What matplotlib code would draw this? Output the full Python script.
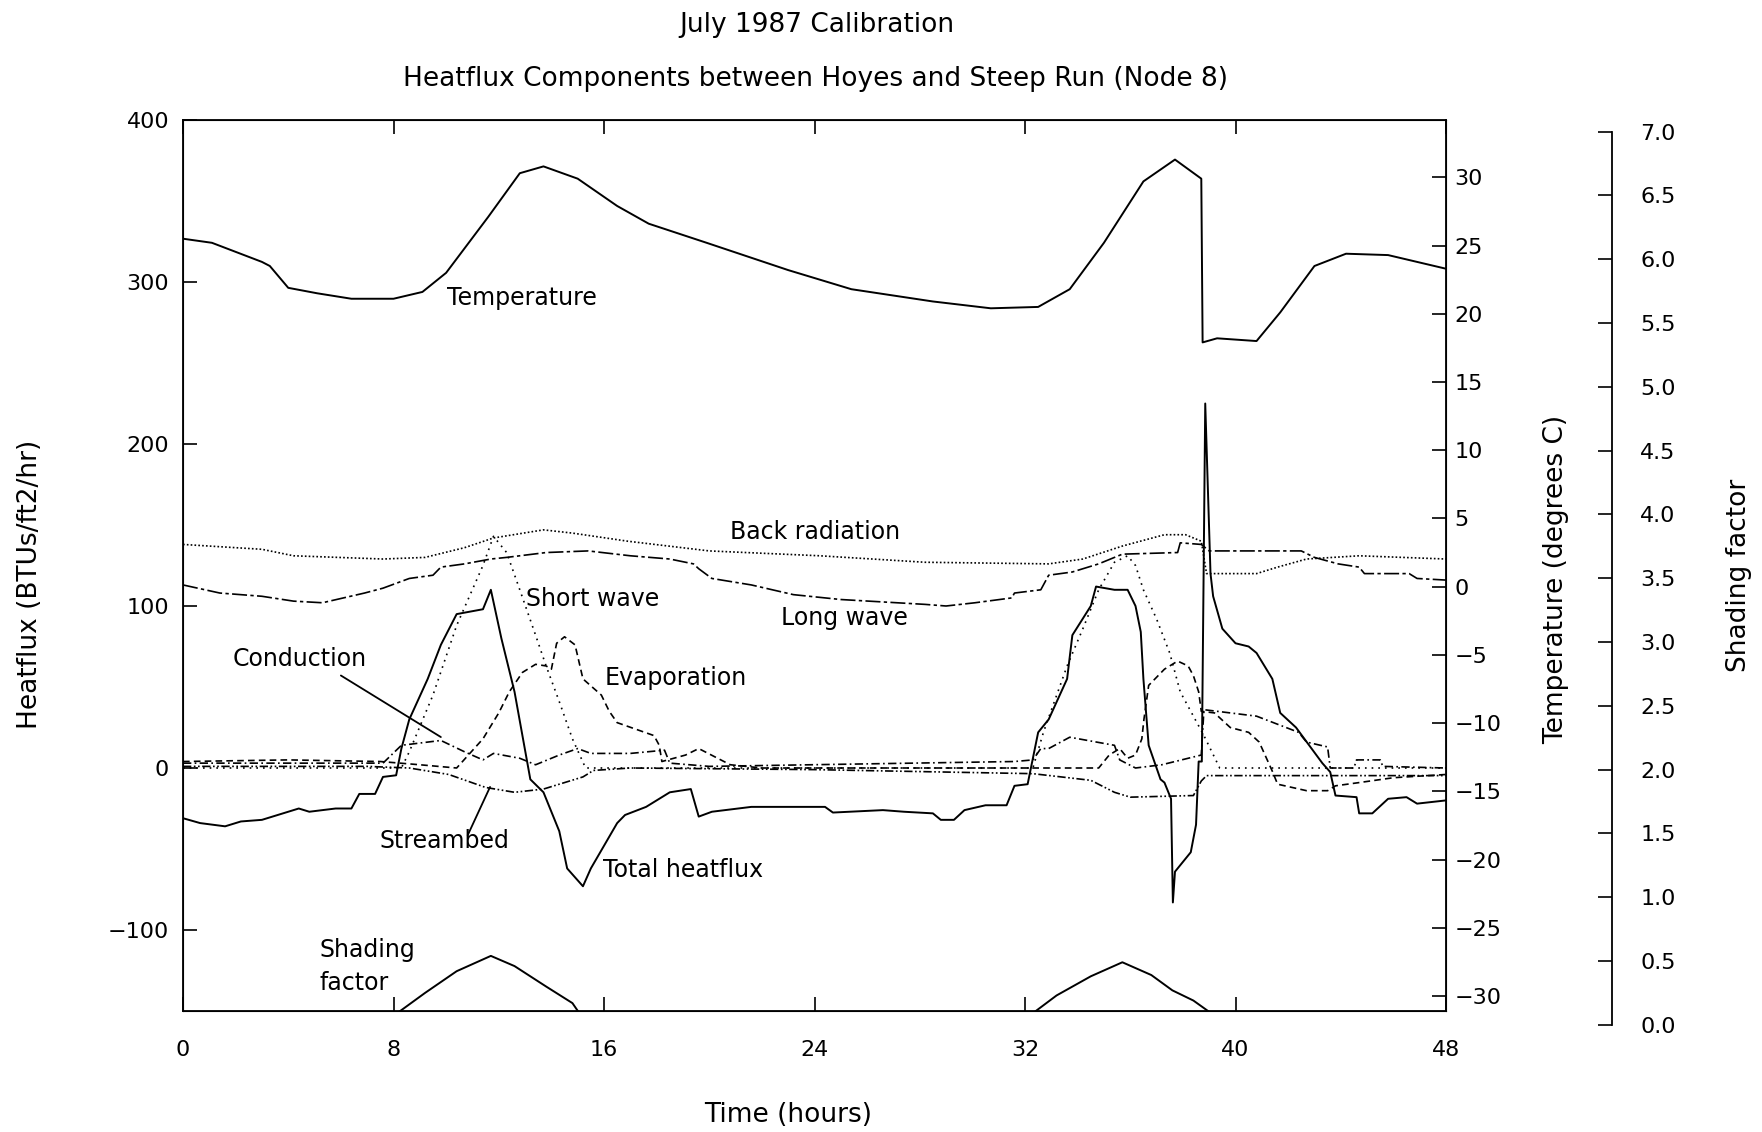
import numpy as np
import matplotlib
matplotlib.use("Agg")
import matplotlib.pyplot as plt
from matplotlib.ticker import FormatStrFormatter

plt.rcParams['font.family'] = 'DejaVu Sans'

# values, time in hours
temp_t = [0, 1.1, 3.0, 3.3, 4.0, 5.1, 6.4, 8.0, 9.1, 10.0, 11.6, 12.8, 13.7, 15.0, 16.5, 17.7,
          19.9, 23.0, 25.4, 28.5, 30.7, 32.5, 33.7, 35.0, 36.5, 37.7, 38.7, 38.75, 39.3, 40.8,
          41.7, 43.0, 44.2, 45.8, 48.0]
temp_v = [25.5, 25.2, 23.8, 23.5, 21.9, 21.5, 21.1, 21.1, 21.6, 23.0, 27.1, 30.3, 30.8, 29.9,
          27.9, 26.6, 25.2, 23.2, 21.8, 20.9, 20.4, 20.5, 21.8, 25.2, 29.7, 31.3, 29.9, 17.9,
          18.2, 18.0, 20.1, 23.5, 24.4, 24.3, 23.3]

back_t = [0, 3.0, 4.2, 7.6, 9.2, 10.7, 11.8, 13.7, 14.8, 16.9, 20.0, 24.2, 28.2, 32.9, 34.2,
          35.7, 37.3, 38.1, 38.7, 38.9, 40.8, 41.6, 42.7, 44.7, 48.0]
back_v = [138, 135, 131, 129, 130, 136, 142, 147, 145, 140, 134, 131, 127, 126, 129,
          137, 144, 144, 140, 120, 120, 124, 129, 131, 129]

long_t = [0, 1.4, 3.0, 4.2, 5.3, 6.1, 6.9, 7.6, 8.6, 9.5, 9.8, 10.7, 11.7, 12.3, 13.8, 15.4,
          17.0, 18.5, 19.4, 19.6, 20.1, 21.6, 23.2, 25.0, 28.2, 29.0, 30.1, 31.5, 31.6, 32.6,
          32.9, 33.8, 34.8, 35.7, 37.8, 37.9, 38.7, 39.0, 42.5, 43.0, 43.9, 44.7, 44.9, 46.6,
          46.9, 48.0]
long_v = [113, 108, 106, 103, 102, 105, 108, 111, 117, 119, 124, 126, 129, 130, 133, 134,
          131, 129, 126, 123, 117, 113, 107, 104, 101, 100, 102, 105, 108, 110,
          119, 121, 126, 132, 133, 139, 138, 134, 134, 130, 126, 124, 120, 120,
          117, 116]

short_t = [0, 8.3, 8.6, 9.5, 10.4, 11.4, 11.8, 12.3, 12.8, 13.4, 13.8, 14.3, 14.8, 15.3,
           32.3, 32.7, 33.6, 34.2, 34.8, 35.4, 35.9, 36.2, 36.5, 37.0, 37.5, 37.9, 38.4,
           38.8, 39.4, 48.0]
short_v = [0, 0, 10, 45, 88, 125, 143, 133, 110, 82, 63, 41, 18, 0,
           0, 22, 63, 86, 110, 127, 131, 125, 110, 92, 71, 47, 32,
           20, 0, 0]

evap_t = [0, 4.0, 7.5, 9.0, 10.4, 11.4, 12.0, 12.4, 12.9, 13.4, 13.8, 14.0, 14.2, 14.5, 14.9,
          15.2, 15.9, 16.2, 16.5, 17.9, 18.1, 18.2, 19.1, 19.6, 20.8, 22.0, 34.8, 35.2, 35.6,
          35.9, 36.2, 36.44, 36.52, 36.7, 37.3, 37.8, 38.2, 38.4, 38.6, 38.7, 39.2, 39.8, 40.5,
          40.9, 41.4, 41.6, 42.7, 43.5, 43.8, 44.7, 46.0, 48.0]
evap_v = [4, 5, 4, 2, 0, 18, 34, 47, 59, 64, 63, 61, 77, 81, 76,
          55, 45, 35, 28, 20, 14, 4, 8, 12, 2, 0, 0, 8, 12,
          6, 8, 18, 30, 51, 61, 66, 63, 57, 47, 35, 34, 25, 22,
          16, -2, -10, -14, -14, -11, -9, -6, -4]

cond_t = [0, 7.6, 8.3, 9.8, 10.7, 11.4, 11.8, 12.8, 13.4, 14.3, 15.0, 15.5, 17.0, 18.3, 18.5,
          20.0, 31.6, 32.3, 32.6, 32.9, 33.7, 35.4, 35.6, 36.2, 37.2, 38.7, 38.8, 39.8, 40.8,
          41.6, 42.4, 42.7, 43.5, 43.6, 44.5, 44.6, 45.5, 45.6, 48.0]
cond_v = [3, 3, 14, 17, 10, 5, 9, 6, 2, 8, 12, 9, 9, 11, 3,
          1, 4, 5, 12, 12, 19, 14, 5, 0, 2, 8, 36, 34, 32,
          27, 22, 16, 13, 0, 0, 5, 5, 1, 0]

stream_t = [0, 7.0, 8.6, 10.1, 11.5, 12.6, 13.7, 15.2, 15.6, 17.0, 24.0, 32.3, 34.5, 35.4,
            36.0, 38.4, 38.7, 38.9, 48.0]
stream_v = [1, 1, 0, -4, -12, -15, -13, -5.5, -1.5, 0, -1, -3.5, -7.6, -15,
            -18, -17, -8, -4.7, -4.7]

total_t = [0, 0.65, 1.6, 2.2, 3.0, 3.6, 4.4, 4.8, 5.8, 6.4,
           6.7, 7.3, 7.6, 8.1, 8.3, 8.6, 9.3, 9.8, 10.4, 11.4,
           11.7, 12.1, 12.6, 13.2, 13.7, 14.3, 14.6, 15.2, 15.5, 16.5,
           16.8, 17.6, 18.5, 19.3, 19.6, 20.1, 21.6, 24.4, 24.7, 26.6,
           27.4, 28.5, 28.8, 29.3, 29.7, 30.5, 31.3, 31.6, 32.1, 32.3,
           32.5, 32.9, 33.6, 33.8, 34.5, 34.7, 35.4, 35.9, 36.2, 36.4,
           36.5, 36.7, 37.15, 37.3, 37.55, 37.62, 37.7, 38.1, 38.3, 38.5,
           38.6, 38.72, 38.85, 39.05, 39.15, 39.5, 40.0, 40.5, 40.8, 41.4,
           41.7, 42.3, 42.8, 43.3, 43.6, 43.8, 44.6, 44.7, 45.2, 45.8,
           46.5, 46.9, 48.0]
total_v = [-31, -34, -36, -33, -32, -29, -25, -27, -25, -25,
           -16, -16, -5.5, -4.5, 12, 30, 55, 76, 95, 98,
           110, 80, 47, -7, -15, -39, -62, -73, -62, -34,
           -29, -24, -15, -13, -30, -27, -24, -24, -27.5, -26,
           -27, -28, -32, -32, -26, -23, -23, -11, -10, 6,
           22, 30, 55, 82, 100, 112, 110, 110, 100, 84,
           55, 14, -7, -9, -19, -83, -64, -56, -52, -35,
           4, 4, 225, 120, 106, 86, 77, 75, 71, 55,
           34, 25, 14, 3, -2.5, -17, -18, -28, -28, -19,
           -18, -22, -20]

shade_t = [0, 7.9, 8.2, 9.2, 10.4, 11.7, 12.6, 13.8, 14.8, 15.1, 15.3,
           31.9, 32.1, 33.2, 34.5, 35.7, 36.8, 37.6, 38.4, 39.35, 39.6, 48]
shade_v = [0, 0, 0.1, 0.25, 0.42, 0.54, 0.46, 0.30, 0.17, 0.08, 0,
           0, 0.06, 0.23, 0.38, 0.49, 0.39, 0.27, 0.19, 0.05, 0, 0]

W, H = 1762, 1132
L, R, T, B = 183, 1446, 120, 1011
lw = 1.2

fig = plt.figure(figsize=(W / 100, H / 100), dpi=100)
ax = fig.add_axes([L / W, 1 - B / H, (R - L) / W, (B - T) / H])

ax.plot(back_t, back_v, color='k', lw=lw, ls=(0, (1, 1.3)))
ax.plot(long_t, long_v, color='k', lw=lw, ls=(0, (9, 2, 2, 2)))
ax.plot(short_t, short_v, color='k', lw=lw, ls=(0, (1, 3)))
ax.plot(evap_t, evap_v, color='k', lw=lw, ls=(0, (4, 2.5)))
ax.plot(cond_t, cond_v, color='k', lw=lw, ls=(0, (5, 2, 1, 2)))
ax.plot(stream_t, stream_v, color='k', lw=lw, ls=(0, (5, 1.5, 1, 1.5, 1, 1.5)))
ax.plot(total_t, total_v, color='k', lw=1.4)

ax.set_xlim(0, 48)
ax.set_ylim(-150, 400)
ax.set_xticks(range(0, 49, 8))
ax.set_yticks(range(-100, 401, 100))
ax.tick_params(direction='in', length=10, width=1.2, labelsize=16, top=True, right=False)
ax.tick_params(axis='x', pad=21)
ax.tick_params(axis='y', pad=10)
for s in ax.spines.values():
    s.set_linewidth(1.3)
ax.set_xlabel('Time (hours)', fontsize=19, va='center')
ax.xaxis.set_label_coords(0.479, (B - 1115) / (B - T))
ax.set_ylabel('Heatflux (BTUs/ft2/hr)', fontsize=19, va='center')
ax.yaxis.set_label_coords((30 - L) / (R - L), 0.479)

# temperature scale on the right spine
axt = ax.twinx()
axt.plot(temp_t, temp_v, color='k', lw=1.4)
axt.set_ylim(-31.1, 34.2)
axt.set_yticks(range(-30, 31, 5))
axt.tick_params(direction='in', length=10, width=1.2, labelsize=16, pad=6)
axt.set_ylabel('Temperature (degrees C)', fontsize=19, va='center')
axt.yaxis.set_label_coords((1556 - L) / (R - L), 0.484)

# shading factor scale, set off to the right
bs, ts = 1024.8, 131.5
axs = fig.add_axes([L / W, 1 - bs / H, (R - L) / W, (bs - ts) / H], sharex=ax)
axs.patch.set_visible(False)
for s in ('left', 'top', 'bottom'):
    axs.spines[s].set_visible(False)
axs.spines['right'].set_position(('axes', 1 + (1612.5 - R) / (R - L)))
axs.spines['right'].set_linewidth(1.3)
axs.yaxis.tick_right()
axs.yaxis.set_label_position('right')
axs.tick_params(axis='x', bottom=False, labelbottom=False)
axs.tick_params(axis='y', direction='in', length=10, width=1.2, labelsize=16, pad=20)
shade_line, = axs.plot(shade_t, shade_v, color='k', lw=1.4)
shade_line.set_clip_box(ax.bbox)
axs.set_ylim(0, 7)
axs.set_yticks(np.arange(0, 7.01, 0.5))
axs.yaxis.set_major_formatter(FormatStrFormatter('%.1f'))
axs.set_ylabel('Shading factor', fontsize=19, va='center')
axs.yaxis.set_label_coords((1739 - L) / (R - L), 0.503)

# curve labels
fs = 17
ax.text(10.04, 290.3, 'Temperature', fontsize=fs, va='center')
ax.text(20.8, 145.6, 'Back radiation', fontsize=fs, va='center')
ax.text(13.03, 104.3, 'Short wave', fontsize=fs, va='center')
ax.text(22.72, 92.6, 'Long wave', fontsize=fs, va='center')
ax.text(1.89, 67.4, 'Conduction', fontsize=fs, va='center')
ax.text(16.03, 55.7, 'Evaporation', fontsize=fs, va='center')
ax.text(7.48, -44.8, 'Streambed', fontsize=fs, va='center')
ax.text(15.96, -62.7, 'Total heatflux', fontsize=fs, va='center')
ax.text(5.2, -122.5, 'Shading\nfactor', fontsize=fs, va='center', linespacing=1.45)
ax.annotate('', xy=(9.8, 19.1), xytext=(6.0, 57.1),
            arrowprops=dict(arrowstyle='-', lw=1.3, color='k', shrinkA=0, shrinkB=0))
ax.annotate('', xy=(11.67, -11.7), xytext=(10.82, -41.5),
            arrowprops=dict(arrowstyle='-', lw=1.3, color='k', shrinkA=0, shrinkB=0))

fig.text(0.4637, 0.978, 'July 1987 Calibration', ha='center', va='center', fontsize=19)
fig.text(0.4627, 0.9305, 'Heatflux Components between Hoyes and Steep Run (Node 8)',
         ha='center', va='center', fontsize=19)

fig.savefig('out.png', dpi=100)
